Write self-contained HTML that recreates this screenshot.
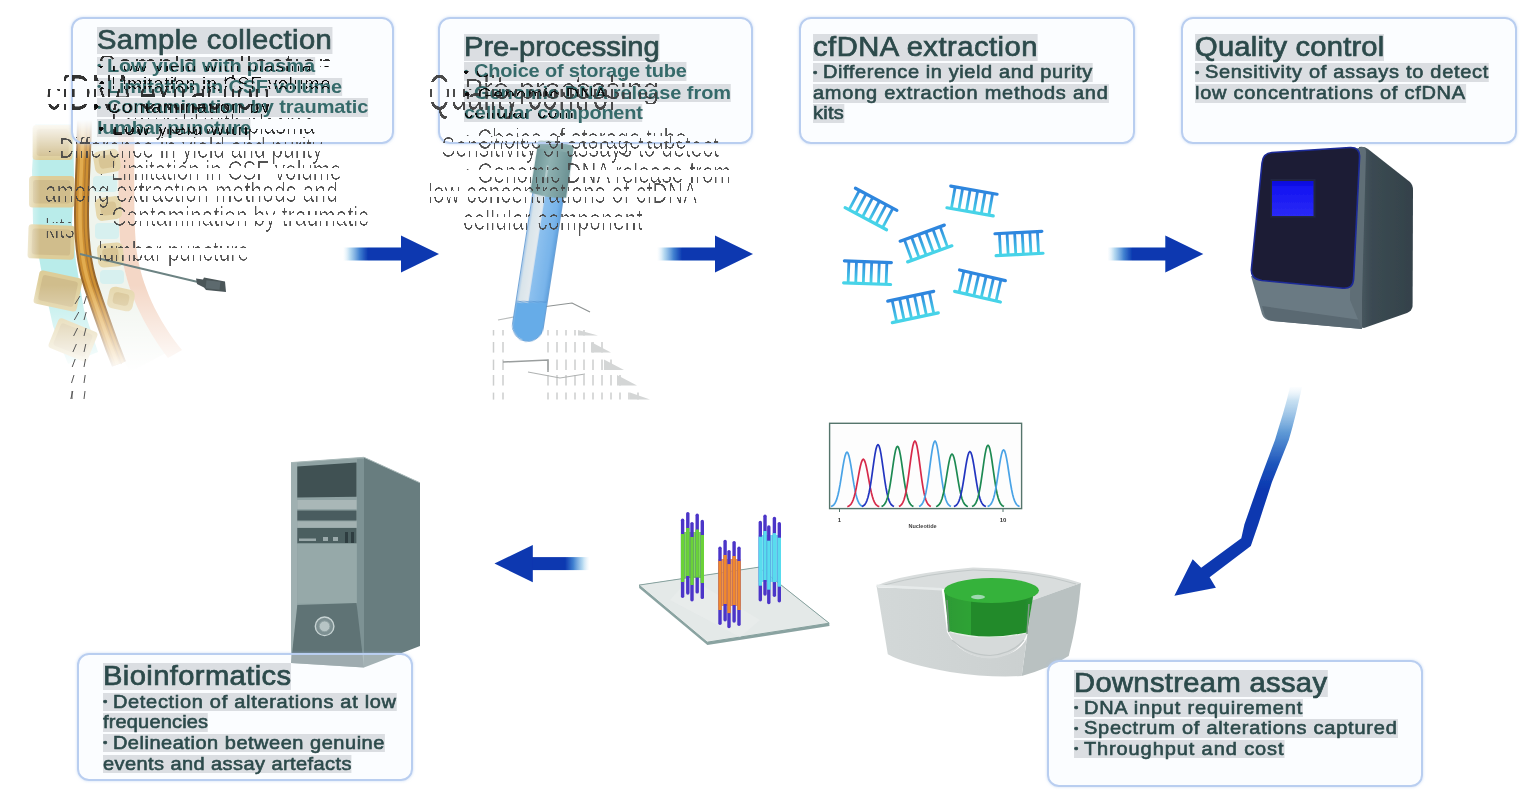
<!DOCTYPE html>
<html><head><meta charset="utf-8"><title>cfDNA workflow</title>
<style>
html,body{margin:0;padding:0;background:#fff;}
#c{position:relative;width:1536px;height:805px;overflow:hidden;background:#fff;font-family:"Liberation Sans", sans-serif;}
#art{position:absolute;left:0;top:0;}
.bx{position:absolute;box-sizing:border-box;border:2px solid #b9cef0;border-radius:12px;background:rgba(246,250,254,0.42);box-shadow:0 0 3px rgba(170,198,238,0.6);}
.t{position:absolute;white-space:pre;line-height:1;color:#2c4a4b;transform-origin:0 0;filter:blur(0.35px);}
.t span.bg{display:inline-block;background:rgba(95,100,108,0.2);}
.ti{font-size:27px;-webkit-text-stroke:0.7px #2c4a4b;}
.bo{font-size:18.5px;}
.med{-webkit-text-stroke:0.6px #2c4a4b;}
.bold{font-weight:700;color:#356a6a;filter:blur(0.35px);}
.g{position:absolute;white-space:pre;line-height:1;transform-origin:0 0;}
.gw{position:absolute;left:0;top:0;width:800px;height:300px;filter:url(#thin);opacity:0.92;}
.s{position:absolute;overflow:hidden;white-space:pre;}
.s span{position:absolute;left:0;line-height:1;}

</style></head><body><div id="c">
<svg id="art" width="1536" height="805" viewBox="0 0 1536 805">
<defs>
<linearGradient id="agr" x1="0" x2="1" y1="0" y2="0">
 <stop offset="0" stop-color="#d8ecf8" stop-opacity="0"/>
 <stop offset="0.12" stop-color="#a8d2ee" stop-opacity="0.85"/>
 <stop offset="0.28" stop-color="#3f7fd0"/>
 <stop offset="0.42" stop-color="#0a37b0"/>
 <stop offset="1" stop-color="#0a37b0"/>
</linearGradient>
<linearGradient id="agl" x1="1" x2="0" y1="0" y2="0">
 <stop offset="0" stop-color="#d8ecf8" stop-opacity="0"/>
 <stop offset="0.12" stop-color="#a8d2ee" stop-opacity="0.85"/>
 <stop offset="0.28" stop-color="#3f7fd0"/>
 <stop offset="0.42" stop-color="#0a37b0"/>
 <stop offset="1" stop-color="#0a37b0"/>
</linearGradient>
<linearGradient id="agb" gradientUnits="userSpaceOnUse" x1="0" y1="385" x2="0" y2="490">
 <stop offset="0" stop-color="#e4f1fa" stop-opacity="0"/>
 <stop offset="0.15" stop-color="#b9d8ee" stop-opacity="0.8"/>
 <stop offset="0.45" stop-color="#5f9ad6"/>
 <stop offset="0.75" stop-color="#1f55bc"/>
 <stop offset="1" stop-color="#0a37b0"/>
</linearGradient>
<linearGradient id="rung" x1="0" x2="0" y1="0" y2="1">
 <stop offset="0" stop-color="#2f86de"/><stop offset="1" stop-color="#48d4e8"/>
</linearGradient>
<linearGradient id="spfadeB" gradientUnits="userSpaceOnUse" x1="0" y1="285" x2="0" y2="372">
 <stop offset="0" stop-color="#fff" stop-opacity="0"/><stop offset="1" stop-color="#fff" stop-opacity="1"/>
</linearGradient>
<linearGradient id="spfadeT" gradientUnits="userSpaceOnUse" x1="0" y1="120" x2="0" y2="160">
 <stop offset="0" stop-color="#fff" stop-opacity="1"/><stop offset="1" stop-color="#fff" stop-opacity="0"/>
</linearGradient>
<linearGradient id="spfadeL" gradientUnits="userSpaceOnUse" x1="18" y1="0" x2="40" y2="0">
 <stop offset="0" stop-color="#fff" stop-opacity="1"/><stop offset="1" stop-color="#fff" stop-opacity="0"/>
</linearGradient>
<linearGradient id="tubeg" x1="0" x2="1" y1="0" y2="0">
 <stop offset="0" stop-color="#9cc4ea"/><stop offset="0.1" stop-color="#d9e4ea"/><stop offset="0.38" stop-color="#e4eaee"/>
 <stop offset="0.42" stop-color="#8cc0ee"/><stop offset="0.85" stop-color="#78b4ea"/><stop offset="1" stop-color="#5e9fdc"/>
</linearGradient>
<linearGradient id="capg" x1="0" x2="1" y1="0" y2="0">
 <stop offset="0" stop-color="#6f9697"/><stop offset="0.4" stop-color="#8fb2b2"/><stop offset="1" stop-color="#6a9092"/>
</linearGradient>
<linearGradient id="sideg" x1="0" x2="1" y1="0" y2="0">
 <stop offset="0" stop-color="#55646c"/><stop offset="0.35" stop-color="#3b4a52"/><stop offset="1" stop-color="#34424a"/>
</linearGradient>
<linearGradient id="scrg" x1="0" x2="0" y1="0" y2="1">
 <stop offset="0" stop-color="#0c0cd8"/><stop offset="0.2" stop-color="#1414f2"/><stop offset="1" stop-color="#2a2af6"/>
</linearGradient>
<linearGradient id="grn" x1="0" x2="1" y1="0" y2="0">
 <stop offset="0" stop-color="#2c9a34"/><stop offset="0.3" stop-color="#2fa336"/><stop offset="0.3" stop-color="#228a2c"/><stop offset="0.9" stop-color="#228a2c"/><stop offset="1" stop-color="#2a9632"/>
</linearGradient>
<linearGradient id="seqf" x1="0" x2="1" y1="0" y2="0">
 <stop offset="0" stop-color="#d3d8d8"/><stop offset="1" stop-color="#cbd0d0"/>
</linearGradient>
<filter id="thin" x="0" y="0" width="100%" height="100%"><feGaussianBlur stdDeviation="0.6"/><feComponentTransfer><feFuncA type="linear" slope="4" intercept="-2.65"/></feComponentTransfer></filter>
<filter id="thin2" x="0" y="0" width="100%" height="100%"><feGaussianBlur stdDeviation="0.5"/><feComponentTransfer><feFuncA type="linear" slope="4" intercept="-2.1"/></feComponentTransfer></filter>
<filter id="thin3" x="0" y="0" width="100%" height="100%"><feGaussianBlur stdDeviation="0.7"/><feComponentTransfer><feFuncA type="linear" slope="4" intercept="-2.45"/></feComponentTransfer></filter>
<filter id="b1" x="-5%" y="-5%" width="110%" height="110%"><feGaussianBlur stdDeviation="0.7"/></filter>
<filter id="b2" x="-10%" y="-10%" width="120%" height="120%"><feGaussianBlur stdDeviation="1.6"/></filter>
</defs>
<g id="spine" filter="url(#b1)" opacity="0.9">
<path d="M88,120 L118,120 C119,170 117,215 121,250 C126,290 145,325 168,352 L130,372 C112,340 98,300 92,262 C86,222 86,170 88,120 Z" fill="#eef3ec"/>
<path d="M118,120 L134,120 C135,165 133,210 136,246 C140,282 156,318 182,350 L168,358 C144,326 126,290 121,250 C117,212 119,166 118,120 Z" fill="#f3d3c0"/>
<rect x="94" y="150" width="26" height="23" rx="6" fill="#e3d3a4" transform="rotate(-10 107.0 161.5)"/>
<rect x="99" y="155" width="16" height="13" rx="4" fill="#d4bf8a" transform="rotate(-10 107.0 161.5)"/>
<rect x="95.5" y="197" width="26" height="23" rx="6" fill="#e3d3a4" transform="rotate(-8 108.5 208.5)"/>
<rect x="100.5" y="202" width="16" height="13" rx="4" fill="#d4bf8a" transform="rotate(-8 108.5 208.5)"/>
<rect x="97.5" y="243" width="26" height="24" rx="6" fill="#e3d3a4" transform="rotate(-5 110.5 255.0)"/>
<rect x="102.5" y="248" width="16" height="14" rx="4" fill="#d4bf8a" transform="rotate(-5 110.5 255.0)"/>
<rect x="108" y="288" width="26" height="22" rx="6" fill="#e3d3a4" transform="rotate(12 121.0 299.0)"/>
<rect x="113" y="293" width="16" height="12" rx="4" fill="#d4bf8a" transform="rotate(12 121.0 299.0)"/>
<rect x="93" y="176" width="24" height="16" rx="4" fill="#d3efee"/>
<rect x="95" y="223" width="24" height="16" rx="4" fill="#d3efee"/>
<rect x="100" y="270" width="24" height="14" rx="4" fill="#d3efee"/>
<path d="M35,124 L73,124 L74,176 L72,224 L76,262 L84,310 L98,352 L68,364 L53,326 L43,280 L33,224 L32,170 Z" fill="#b2eae8"/>
<rect x="32.6" y="125" width="40" height="35" rx="3.5" fill="#dac88f" transform="rotate(0 52.6 142.5)"/>
<rect x="36.6" y="129" width="32" height="27" rx="3" fill="#ccb680" transform="rotate(0 52.6 142.5)"/>
<rect x="29" y="176" width="45.3" height="31.5" rx="3.5" fill="#dac88f" transform="rotate(0 51.65 191.75)"/>
<rect x="33" y="180" width="37.3" height="23.5" rx="3" fill="#ccb680" transform="rotate(0 51.65 191.75)"/>
<rect x="28" y="225" width="46.5" height="34" rx="3.5" fill="#dac88f" transform="rotate(2 51.25 242.0)"/>
<rect x="32" y="229" width="38.5" height="26" rx="3" fill="#ccb680" transform="rotate(2 51.25 242.0)"/>
<rect x="36" y="274" width="44" height="34" rx="3.5" fill="#dac88f" transform="rotate(12 58.0 291.0)"/>
<rect x="40" y="278" width="36" height="26" rx="3" fill="#ccb680" transform="rotate(12 58.0 291.0)"/>
<rect x="52" y="324" width="42" height="32" rx="3.5" fill="#dac88f" transform="rotate(22 73.0 340.0)"/>
<rect x="56" y="328" width="34" height="24" rx="3" fill="#ccb680" transform="rotate(22 73.0 340.0)"/>
<path d="M84.5,120 C84,150 81.5,190 81.5,215 C81.5,245 85,268 91,286 C97,304 104,324 112,346 L119,364" fill="none" stroke="#8c5716" stroke-width="15" stroke-linecap="butt"/>
<path d="M84.5,120 C84,150 81.5,190 81.5,215 C81.5,245 85,268 91,286 C97,304 104,324 112,346 L119,364" fill="none" stroke="#c8831f" stroke-width="11"/>
<path d="M84.5,120 C84,150 81.5,190 81.5,215 C81.5,245 85,268 91,286 C97,304 104,324 112,346 L119,364" fill="none" stroke="#dfa43c" stroke-width="3.5" transform="translate(-1.5,0)"/>
<path d="M84.5,120 C84,150 81.5,190 81.5,215 C81.5,245 85,268 91,286 C97,304 104,324 112,346 L119,364" fill="none" stroke="#a56a1a" stroke-width="1.2" transform="translate(2.5,0)"/>
</g>
<rect x="0" y="285" width="260" height="130" fill="url(#spfadeB)"/>
<rect x="0" y="100" width="260" height="61" fill="url(#spfadeT)"/>
<rect x="0" y="100" width="42" height="320" fill="url(#spfadeL)"/>
<g filter="url(#b1)"><line x1="80" y1="254" x2="200" y2="282.5" stroke="#6c8383" stroke-width="1.8"/>
<path d="M196,278.5 L203,279.5 L204,277.5 L225,281.5 L226,292 L206,290 L204,287.5 L197,284 Z" fill="#4b5659"/>
<rect x="206" y="281" width="14" height="8" fill="#5d6a6e" transform="rotate(6 213 285)"/></g>
<line x1="80.0" y1="296" x2="75.0" y2="304" stroke="#555" stroke-width="1"/>
<line x1="86.5" y1="296" x2="84" y2="304" stroke="#555" stroke-width="1"/>
<line x1="78.8" y1="312" x2="74.3" y2="320" stroke="#555" stroke-width="1"/>
<line x1="86.2" y1="312" x2="84" y2="320" stroke="#555" stroke-width="1"/>
<line x1="77.6" y1="328" x2="73.6" y2="336" stroke="#555" stroke-width="1"/>
<line x1="86.0" y1="328" x2="84" y2="336" stroke="#555" stroke-width="1"/>
<line x1="76.4" y1="344" x2="72.9" y2="352" stroke="#555" stroke-width="1"/>
<line x1="85.8" y1="344" x2="84" y2="352" stroke="#555" stroke-width="1"/>
<line x1="75.2" y1="359" x2="72.2" y2="367" stroke="#555" stroke-width="1"/>
<line x1="85.5" y1="359" x2="84" y2="367" stroke="#555" stroke-width="1"/>
<line x1="74.0" y1="375" x2="71.5" y2="383" stroke="#555" stroke-width="1"/>
<line x1="85.2" y1="375" x2="84" y2="383" stroke="#555" stroke-width="1"/>
<line x1="72.8" y1="391" x2="70.8" y2="399" stroke="#555" stroke-width="1"/>
<line x1="85.0" y1="391" x2="84" y2="399" stroke="#555" stroke-width="1"/>
<line x1="72" y1="391" x2="72" y2="399" stroke="#555" stroke-width="1"/>
<g stroke="#b9bcbc" stroke-width="1.2" fill="none" filter="url(#b1)">
<path d="M520,310 L572,303 L590,312" stroke="#8d9292"/>
<path d="M498,320 L530,314"/>
<line x1="493.5" y1="330" x2="493.5" y2="335.5" stroke="#cccece" stroke-width="1.5"/>
<line x1="503" y1="330" x2="503" y2="335.5" stroke="#cccece" stroke-width="1.5"/>
<line x1="548" y1="330" x2="548" y2="335.5" stroke="#cccece" stroke-width="1.5"/>
<line x1="557" y1="330" x2="557" y2="335.5" stroke="#cccece" stroke-width="1.5"/>
<line x1="566" y1="330" x2="566" y2="335.5" stroke="#cccece" stroke-width="1.5"/>
<line x1="575" y1="330" x2="575" y2="335.5" stroke="#cccece" stroke-width="1.5"/>
<line x1="584" y1="330" x2="584" y2="335.5" stroke="#cccece" stroke-width="1.5"/>
<path d="M578,330 L598,335.5 L578,335.5 Z" fill="#d4d6d6" stroke="none"/>
<line x1="493.5" y1="342" x2="493.5" y2="352.6" stroke="#cccece" stroke-width="1.5"/>
<line x1="503" y1="342" x2="503" y2="352.6" stroke="#cccece" stroke-width="1.5"/>
<line x1="548" y1="342" x2="548" y2="352.6" stroke="#cccece" stroke-width="1.5"/>
<line x1="557" y1="342" x2="557" y2="352.6" stroke="#cccece" stroke-width="1.5"/>
<line x1="566" y1="342" x2="566" y2="352.6" stroke="#cccece" stroke-width="1.5"/>
<line x1="575" y1="342" x2="575" y2="352.6" stroke="#cccece" stroke-width="1.5"/>
<line x1="584" y1="342" x2="584" y2="352.6" stroke="#cccece" stroke-width="1.5"/>
<line x1="593" y1="342" x2="593" y2="352.6" stroke="#cccece" stroke-width="1.5"/>
<line x1="602" y1="342" x2="602" y2="352.6" stroke="#cccece" stroke-width="1.5"/>
<path d="M591,342 L611,352.6 L591,352.6 Z" fill="#d4d6d6" stroke="none"/>
<line x1="493.5" y1="359.6" x2="493.5" y2="370" stroke="#cccece" stroke-width="1.5"/>
<line x1="503" y1="359.6" x2="503" y2="370" stroke="#cccece" stroke-width="1.5"/>
<line x1="548" y1="359.6" x2="548" y2="370" stroke="#cccece" stroke-width="1.5"/>
<line x1="557" y1="359.6" x2="557" y2="370" stroke="#cccece" stroke-width="1.5"/>
<line x1="566" y1="359.6" x2="566" y2="370" stroke="#cccece" stroke-width="1.5"/>
<line x1="575" y1="359.6" x2="575" y2="370" stroke="#cccece" stroke-width="1.5"/>
<line x1="584" y1="359.6" x2="584" y2="370" stroke="#cccece" stroke-width="1.5"/>
<line x1="593" y1="359.6" x2="593" y2="370" stroke="#cccece" stroke-width="1.5"/>
<line x1="602" y1="359.6" x2="602" y2="370" stroke="#cccece" stroke-width="1.5"/>
<line x1="611" y1="359.6" x2="611" y2="370" stroke="#cccece" stroke-width="1.5"/>
<path d="M604,359.6 L624,370 L604,370 Z" fill="#d4d6d6" stroke="none"/>
<line x1="493.5" y1="375" x2="493.5" y2="385.6" stroke="#cccece" stroke-width="1.5"/>
<line x1="503" y1="375" x2="503" y2="385.6" stroke="#cccece" stroke-width="1.5"/>
<line x1="548" y1="375" x2="548" y2="385.6" stroke="#cccece" stroke-width="1.5"/>
<line x1="557" y1="375" x2="557" y2="385.6" stroke="#cccece" stroke-width="1.5"/>
<line x1="566" y1="375" x2="566" y2="385.6" stroke="#cccece" stroke-width="1.5"/>
<line x1="575" y1="375" x2="575" y2="385.6" stroke="#cccece" stroke-width="1.5"/>
<line x1="584" y1="375" x2="584" y2="385.6" stroke="#cccece" stroke-width="1.5"/>
<line x1="593" y1="375" x2="593" y2="385.6" stroke="#cccece" stroke-width="1.5"/>
<line x1="602" y1="375" x2="602" y2="385.6" stroke="#cccece" stroke-width="1.5"/>
<line x1="611" y1="375" x2="611" y2="385.6" stroke="#cccece" stroke-width="1.5"/>
<line x1="620" y1="375" x2="620" y2="385.6" stroke="#cccece" stroke-width="1.5"/>
<path d="M617,375 L637,385.6 L617,385.6 Z" fill="#d4d6d6" stroke="none"/>
<line x1="493.5" y1="392.6" x2="493.5" y2="399.6" stroke="#cccece" stroke-width="1.5"/>
<line x1="503" y1="392.6" x2="503" y2="399.6" stroke="#cccece" stroke-width="1.5"/>
<line x1="548" y1="392.6" x2="548" y2="399.6" stroke="#cccece" stroke-width="1.5"/>
<line x1="557" y1="392.6" x2="557" y2="399.6" stroke="#cccece" stroke-width="1.5"/>
<line x1="566" y1="392.6" x2="566" y2="399.6" stroke="#cccece" stroke-width="1.5"/>
<line x1="575" y1="392.6" x2="575" y2="399.6" stroke="#cccece" stroke-width="1.5"/>
<line x1="584" y1="392.6" x2="584" y2="399.6" stroke="#cccece" stroke-width="1.5"/>
<line x1="593" y1="392.6" x2="593" y2="399.6" stroke="#cccece" stroke-width="1.5"/>
<line x1="602" y1="392.6" x2="602" y2="399.6" stroke="#cccece" stroke-width="1.5"/>
<line x1="611" y1="392.6" x2="611" y2="399.6" stroke="#cccece" stroke-width="1.5"/>
<line x1="620" y1="392.6" x2="620" y2="399.6" stroke="#cccece" stroke-width="1.5"/>
<line x1="629" y1="392.6" x2="629" y2="399.6" stroke="#cccece" stroke-width="1.5"/>
<line x1="638" y1="392.6" x2="638" y2="399.6" stroke="#cccece" stroke-width="1.5"/>
<path d="M630,392.6 L650,399.6 L630,399.6 Z" fill="#d4d6d6" stroke="none"/>
<path d="M503,362 L548,360 L548,372" stroke="#9a9e9e" stroke-width="1.5"/>
<path d="M528,372 L560,378 L585,374" stroke="#b0b3b3"/>
</g>
<g transform="translate(548,196) rotate(8.8)" filter="url(#b1)">
<path d="M-15.5,-4 L15.5,-4 L15.5,131 A15.5,16 0 0 1 -15.5,131 Z" fill="url(#tubeg)" stroke="#5b95cf" stroke-width="0.8"/>
<path d="M-14.8,110 L14.8,106 L14.8,131 A14.8,15.3 0 0 1 -14.8,131 Z" fill="#66ace8"/>
<path d="M-14.8,109 L14.8,105" stroke="#4e8fcf" stroke-width="0.8" fill="none"/>
<path d="M-18,-53 Q0,-57 18,-53 L18.3,-1 Q0,3 -18.3,-1 Z" fill="url(#capg)"/>
<path d="M-18,-53 Q0,-57 18,-53 L18,-45 Q0,-48 -18,-45 Z" fill="#86a9a9"/>
<line x1="-5" y1="-30" x2="-5" y2="-18" stroke="#dfeaea" stroke-width="1"/>
</g>
<g filter="url(#b1)">
<g transform="translate(871,209) rotate(28)">
<rect x="-20.4" y="-10.5" width="2.8" height="21" fill="url(#rung)"/>
<rect x="-12.8" y="-10.5" width="2.8" height="21" fill="url(#rung)"/>
<rect x="-5.199999999999999" y="-10.5" width="2.8" height="21" fill="url(#rung)"/>
<rect x="2.4" y="-10.5" width="2.8" height="21" fill="url(#rung)"/>
<rect x="10.0" y="-10.5" width="2.8" height="21" fill="url(#rung)"/>
<rect x="17.6" y="-10.5" width="2.8" height="21" fill="url(#rung)"/>
<line x1="-23.5" y1="-11" x2="23.5" y2="-11" stroke="#2f86de" stroke-width="3.2" stroke-linecap="round"/>
<line x1="-23.5" y1="11" x2="23.5" y2="11" stroke="#46d3e8" stroke-width="3.2" stroke-linecap="round"/>
</g>
<g transform="translate(972,201) rotate(10)">
<rect x="-20.4" y="-10.5" width="2.8" height="21" fill="url(#rung)"/>
<rect x="-12.8" y="-10.5" width="2.8" height="21" fill="url(#rung)"/>
<rect x="-5.199999999999999" y="-10.5" width="2.8" height="21" fill="url(#rung)"/>
<rect x="2.4" y="-10.5" width="2.8" height="21" fill="url(#rung)"/>
<rect x="10.0" y="-10.5" width="2.8" height="21" fill="url(#rung)"/>
<rect x="17.6" y="-10.5" width="2.8" height="21" fill="url(#rung)"/>
<line x1="-23.5" y1="-11" x2="23.5" y2="-11" stroke="#2f86de" stroke-width="3.2" stroke-linecap="round"/>
<line x1="-23.5" y1="11" x2="23.5" y2="11" stroke="#46d3e8" stroke-width="3.2" stroke-linecap="round"/>
</g>
<g transform="translate(926,243.5) rotate(-20)">
<rect x="-20.4" y="-10.5" width="2.8" height="21" fill="url(#rung)"/>
<rect x="-12.8" y="-10.5" width="2.8" height="21" fill="url(#rung)"/>
<rect x="-5.199999999999999" y="-10.5" width="2.8" height="21" fill="url(#rung)"/>
<rect x="2.4" y="-10.5" width="2.8" height="21" fill="url(#rung)"/>
<rect x="10.0" y="-10.5" width="2.8" height="21" fill="url(#rung)"/>
<rect x="17.6" y="-10.5" width="2.8" height="21" fill="url(#rung)"/>
<line x1="-23.5" y1="-11" x2="23.5" y2="-11" stroke="#2f86de" stroke-width="3.2" stroke-linecap="round"/>
<line x1="-23.5" y1="11" x2="23.5" y2="11" stroke="#46d3e8" stroke-width="3.2" stroke-linecap="round"/>
</g>
<g transform="translate(1019,243.5) rotate(-3)">
<rect x="-20.4" y="-10.5" width="2.8" height="21" fill="url(#rung)"/>
<rect x="-12.8" y="-10.5" width="2.8" height="21" fill="url(#rung)"/>
<rect x="-5.199999999999999" y="-10.5" width="2.8" height="21" fill="url(#rung)"/>
<rect x="2.4" y="-10.5" width="2.8" height="21" fill="url(#rung)"/>
<rect x="10.0" y="-10.5" width="2.8" height="21" fill="url(#rung)"/>
<rect x="17.6" y="-10.5" width="2.8" height="21" fill="url(#rung)"/>
<line x1="-23.5" y1="-11" x2="23.5" y2="-11" stroke="#2f86de" stroke-width="3.2" stroke-linecap="round"/>
<line x1="-23.5" y1="11" x2="23.5" y2="11" stroke="#46d3e8" stroke-width="3.2" stroke-linecap="round"/>
</g>
<g transform="translate(867.5,272.7) rotate(2)">
<rect x="-20.4" y="-10.5" width="2.8" height="21" fill="url(#rung)"/>
<rect x="-12.8" y="-10.5" width="2.8" height="21" fill="url(#rung)"/>
<rect x="-5.199999999999999" y="-10.5" width="2.8" height="21" fill="url(#rung)"/>
<rect x="2.4" y="-10.5" width="2.8" height="21" fill="url(#rung)"/>
<rect x="10.0" y="-10.5" width="2.8" height="21" fill="url(#rung)"/>
<rect x="17.6" y="-10.5" width="2.8" height="21" fill="url(#rung)"/>
<line x1="-23.5" y1="-11" x2="23.5" y2="-11" stroke="#2f86de" stroke-width="3.2" stroke-linecap="round"/>
<line x1="-23.5" y1="11" x2="23.5" y2="11" stroke="#46d3e8" stroke-width="3.2" stroke-linecap="round"/>
</g>
<g transform="translate(980,286) rotate(13)">
<rect x="-20.4" y="-10.5" width="2.8" height="21" fill="url(#rung)"/>
<rect x="-12.8" y="-10.5" width="2.8" height="21" fill="url(#rung)"/>
<rect x="-5.199999999999999" y="-10.5" width="2.8" height="21" fill="url(#rung)"/>
<rect x="2.4" y="-10.5" width="2.8" height="21" fill="url(#rung)"/>
<rect x="10.0" y="-10.5" width="2.8" height="21" fill="url(#rung)"/>
<rect x="17.6" y="-10.5" width="2.8" height="21" fill="url(#rung)"/>
<line x1="-23.5" y1="-11" x2="23.5" y2="-11" stroke="#2f86de" stroke-width="3.2" stroke-linecap="round"/>
<line x1="-23.5" y1="11" x2="23.5" y2="11" stroke="#46d3e8" stroke-width="3.2" stroke-linecap="round"/>
</g>
<g transform="translate(913,307) rotate(-12)">
<rect x="-20.4" y="-10.5" width="2.8" height="21" fill="url(#rung)"/>
<rect x="-12.8" y="-10.5" width="2.8" height="21" fill="url(#rung)"/>
<rect x="-5.199999999999999" y="-10.5" width="2.8" height="21" fill="url(#rung)"/>
<rect x="2.4" y="-10.5" width="2.8" height="21" fill="url(#rung)"/>
<rect x="10.0" y="-10.5" width="2.8" height="21" fill="url(#rung)"/>
<rect x="17.6" y="-10.5" width="2.8" height="21" fill="url(#rung)"/>
<line x1="-23.5" y1="-11" x2="23.5" y2="-11" stroke="#2f86de" stroke-width="3.2" stroke-linecap="round"/>
<line x1="-23.5" y1="11" x2="23.5" y2="11" stroke="#46d3e8" stroke-width="3.2" stroke-linecap="round"/>
</g>
</g>
<g filter="url(#b1)">
<rect x="343" y="247.5" width="60" height="13" fill="url(#agr)"/>
<path d="M401,235.4 L439,254 L401,272.6 Z" fill="#0a37b0"/>
<rect x="657" y="247.5" width="60" height="13" fill="url(#agr)"/>
<path d="M715,235.4 L753,254 L715,272.6 Z" fill="#0a37b0"/>
<rect x="1107.3" y="247.5" width="60" height="13" fill="url(#agr)"/>
<path d="M1165.3,235.4 L1203.3,254 L1165.3,272.6 Z" fill="#0a37b0"/>
<rect x="531" y="557.1" width="58.5" height="13" fill="url(#agl)"/>
<path d="M532.8,545 L494.5,563.6 L532.8,582.2 Z" fill="#0a37b0"/>
<path d="M1290,387 C1286,405 1280,423 1275,440 L1259.2,482.2 L1244.4,524.4 L1241.3,538.2 L1201.2,567.7 L1192.7,559.3 L1174.4,595.8 L1215.9,587.8 L1209.6,577.2 L1250.8,546 L1258.2,524.4 L1271.9,482.2 L1288.8,440 C1294,423 1298,405 1302,387 Z" fill="url(#agb)"/>
</g>
<g filter="url(#b1)">
<path d="M1359,147 Q1364,146 1368,149 L1410,182 Q1413,185 1413,190 L1412.6,306 Q1412,311 1407,313 L1364,328 L1350,326 Z" fill="url(#sideg)"/>
<path d="M1251,276 L1262,314 Q1264,320 1272,321 L1362,329 L1356,284 Z" fill="#6b7a83"/>
<path d="M1262,306 L1265,316 Q1267,320 1273,321 L1362,329 L1361,320 Z" fill="#5a6972"/>
<path d="M1352,150 L1362,147 Q1366,147 1366,152 L1362,300 L1362,329 L1350,300 Z" fill="#5f6e76"/>
<path d="M1272,152.5 L1350,147.5 Q1360,147 1359.6,157 L1353.6,279 Q1353,289 1343,288.2 L1262,280.5 Q1250,279 1251.5,268 L1262,163 Q1263,153 1272,152.5 Z" fill="#1b1f36" stroke="#1c2a98" stroke-width="1.6"/>
<rect x="1270.5" y="179" width="45" height="38.5" fill="#23283f"/>
<rect x="1272" y="181" width="41.5" height="35" fill="url(#scrg)"/>
</g>
<g filter="url(#b1)">
<rect x="829.6" y="423.3" width="192" height="85.3" fill="#fdfdfd" stroke="#55756c" stroke-width="1.4"/>
<polyline points="831.0,506.5 832.0,506.1 833.0,505.5 834.0,504.6 835.0,503.2 836.0,501.2 837.0,498.4 838.0,494.7 839.0,490.2 840.0,484.9 841.0,478.8 842.0,472.5 843.0,466.2 844.0,460.6 845.0,456.1 846.0,453.2 847.0,452.2 848.0,453.2 849.0,456.1 850.0,460.6 851.0,466.2 852.0,472.5 853.0,478.8 854.0,484.9 855.0,490.2 856.0,494.7 857.0,498.4 858.0,501.2 859.0,503.2 860.0,504.6 861.0,505.5 862.0,506.1 863.0,506.5" fill="none" stroke="#4aa3e6" stroke-width="1.7" stroke-linejoin="round"/>
<polyline points="847.3,506.6 848.3,506.3 849.3,505.7 850.3,504.9 851.3,503.7 852.3,501.9 853.3,499.5 854.3,496.3 855.3,492.4 856.3,487.7 857.3,482.4 858.3,476.9 859.3,471.4 860.3,466.5 861.3,462.6 862.3,460.1 863.3,459.2 864.3,460.1 865.3,462.6 866.3,466.5 867.3,471.4 868.3,476.9 869.3,482.4 870.3,487.7 871.3,492.4 872.3,496.3 873.3,499.5 874.3,501.9 875.3,503.7 876.3,504.9 877.3,505.7 878.3,506.3 879.3,506.6" fill="none" stroke="#d62a4a" stroke-width="1.7" stroke-linejoin="round"/>
<polyline points="862.0,506.5 863.0,506.0 864.0,505.3 865.0,504.3 866.0,502.6 867.0,500.3 868.0,497.2 869.0,493.0 870.0,487.9 871.0,481.8 872.0,474.9 873.0,467.7 874.0,460.6 875.0,454.2 876.0,449.0 877.0,445.7 878.0,444.6 879.0,445.7 880.0,449.0 881.0,454.2 882.0,460.6 883.0,467.7 884.0,474.9 885.0,481.8 886.0,487.9 887.0,493.0 888.0,497.2 889.0,500.3 890.0,502.6 891.0,504.3 892.0,505.3 893.0,506.0 894.0,506.5" fill="none" stroke="#2436c0" stroke-width="1.7" stroke-linejoin="round"/>
<polyline points="881.5,506.5 882.5,506.1 883.5,505.4 884.5,504.3 885.5,502.8 886.5,500.5 887.5,497.4 888.5,493.4 889.5,488.4 890.5,482.5 891.5,475.8 892.5,468.8 893.5,461.8 894.5,455.6 895.5,450.6 896.5,447.4 897.5,446.3 898.5,447.4 899.5,450.6 900.5,455.6 901.5,461.8 902.5,468.8 903.5,475.8 904.5,482.5 905.5,488.4 906.5,493.4 907.5,497.4 908.5,500.5 909.5,502.8 910.5,504.3 911.5,505.4 912.5,506.1 913.5,506.5" fill="none" stroke="#1f8a52" stroke-width="1.7" stroke-linejoin="round"/>
<polyline points="898.9,506.4 899.9,506.0 900.9,505.2 901.9,504.1 902.9,502.4 903.9,500.0 904.9,496.6 905.9,492.2 906.9,486.8 907.9,480.3 908.9,473.1 909.9,465.4 910.9,457.9 911.9,451.1 912.9,445.7 913.9,442.2 914.9,441.0 915.9,442.2 916.9,445.7 917.9,451.1 918.9,457.9 919.9,465.4 920.9,473.1 921.9,480.3 922.9,486.8 923.9,492.2 924.9,496.6 925.9,500.0 926.9,502.4 927.9,504.1 928.9,505.2 929.9,506.0 930.9,506.4" fill="none" stroke="#d62a4a" stroke-width="1.7" stroke-linejoin="round"/>
<polyline points="919.0,506.4 920.0,506.0 921.0,505.2 922.0,504.1 923.0,502.4 924.0,500.0 925.0,496.6 926.0,492.2 927.0,486.8 928.0,480.3 929.0,473.1 930.0,465.4 931.0,457.9 932.0,451.1 933.0,445.7 934.0,442.2 935.0,441.0 936.0,442.2 937.0,445.7 938.0,451.1 939.0,457.9 940.0,465.4 941.0,473.1 942.0,480.3 943.0,486.8 944.0,492.2 945.0,496.6 946.0,500.0 947.0,502.4 948.0,504.1 949.0,505.2 950.0,506.0 951.0,506.4" fill="none" stroke="#4aa3e6" stroke-width="1.7" stroke-linejoin="round"/>
<polyline points="936.0,506.5 937.0,506.2 938.0,505.6 939.0,504.7 940.0,503.3 941.0,501.3 942.0,498.7 943.0,495.1 944.0,490.8 945.0,485.6 946.0,479.8 947.0,473.6 948.0,467.6 949.0,462.1 950.0,457.8 951.0,455.0 952.0,454.0 953.0,455.0 954.0,457.8 955.0,462.1 956.0,467.6 957.0,473.6 958.0,479.8 959.0,485.6 960.0,490.8 961.0,495.1 962.0,498.7 963.0,501.3 964.0,503.3 965.0,504.7 966.0,505.6 967.0,506.2 968.0,506.5" fill="none" stroke="#1f8a52" stroke-width="1.7" stroke-linejoin="round"/>
<polyline points="953.9,506.5 954.9,506.1 955.9,505.5 956.9,504.6 957.9,503.1 958.9,501.1 959.9,498.3 960.9,494.6 961.9,490.0 962.9,484.6 963.9,478.5 964.9,472.0 965.9,465.7 966.9,460.0 967.9,455.5 968.9,452.5 969.9,451.5 970.9,452.5 971.9,455.5 972.9,460.0 973.9,465.7 974.9,472.0 975.9,478.5 976.9,484.6 977.9,490.0 978.9,494.6 979.9,498.3 980.9,501.1 981.9,503.1 982.9,504.6 983.9,505.5 984.9,506.1 985.9,506.5" fill="none" stroke="#2436c0" stroke-width="1.7" stroke-linejoin="round"/>
<polyline points="972.0,506.5 973.0,506.0 974.0,505.4 975.0,504.3 976.0,502.7 977.0,500.4 978.0,497.3 979.0,493.2 980.0,488.1 981.0,482.0 982.0,475.2 983.0,468.1 984.0,461.0 985.0,454.7 986.0,449.6 987.0,446.3 988.0,445.2 989.0,446.3 990.0,449.6 991.0,454.7 992.0,461.0 993.0,468.1 994.0,475.2 995.0,482.0 996.0,488.1 997.0,493.2 998.0,497.3 999.0,500.4 1000.0,502.7 1001.0,504.3 1002.0,505.4 1003.0,506.0 1004.0,506.5" fill="none" stroke="#1f8a52" stroke-width="1.7" stroke-linejoin="round"/>
<polyline points="987.6,506.5 988.6,506.1 989.6,505.5 990.6,504.5 991.6,503.0 992.6,500.9 993.6,498.0 994.6,494.2 995.6,489.5 996.6,483.9 997.6,477.6 998.6,471.0 999.6,464.4 1000.6,458.6 1001.6,453.9 1002.6,450.8 1003.6,449.8 1004.6,450.8 1005.6,453.9 1006.6,458.6 1007.6,464.4 1008.6,471.0 1009.6,477.6 1010.6,483.9 1011.6,489.5 1012.6,494.2 1013.6,498.0 1014.6,500.9 1015.6,503.0 1016.6,504.5 1017.6,505.5 1018.6,506.1 1019.6,506.5" fill="none" stroke="#4aa3e6" stroke-width="1.7" stroke-linejoin="round"/>
<line x1="839.5" y1="508.6" x2="839.5" y2="512" stroke="#55756c" stroke-width="1"/>
<line x1="1003" y1="508.6" x2="1003" y2="512" stroke="#55756c" stroke-width="1"/>
<text x="839.3" y="522" font-family="Liberation Sans, sans-serif" font-size="6" font-weight="700" fill="#333" text-anchor="middle">1</text>
<text x="1003" y="522" font-family="Liberation Sans, sans-serif" font-size="6" font-weight="700" fill="#333" text-anchor="middle">10</text>
<text x="922.5" y="528" font-family="Liberation Sans, sans-serif" font-size="5.5" font-weight="700" fill="#444" text-anchor="middle">Nucleotide</text>
</g>
<g filter="url(#b1)">
<path d="M876.5,585.7 Q900,574 973,567.4 Q1040,569 1080.9,583 L1032,600.5 L958,589.5 Z" fill="#d9dddd"/>
<path d="M880,586 Q930,573 973,570 Q1035,571 1076,584" fill="none" stroke="#c2c8c8" stroke-width="1"/>
<path d="M1032,600.5 L1080.9,583 Q1078,620 1068.7,656 Q1050,668 1021.7,676 Z" fill="#b9c1c1"/>
<path d="M876.5,585.7 L878,587.5 L941.7,589.2 L947,632 Q960,657 990,658 Q1018,656 1027,638 L1032,600.5 L1021.7,676 Q990,678 950,672 Q905,664 887.8,654.3 Z" fill="url(#seqf)"/>
<path d="M876.5,585.7 L941.7,589.2" stroke="#e6eaea" stroke-width="2.4" fill="none"/>
<path d="M947,630 Q960,657.8 990,658.5 Q1018,657 1027,634 L1027,622 L947,622 Z" fill="#d6dada"/>
<path d="M952,640 Q968,655 990,655.5 Q1012,654 1024,640" fill="none" stroke="#c0c6c6" stroke-width="1.2"/>
<path d="M944.3,591 L948.7,631.7 Q985,642 1027,633 L1034,591 Z" fill="url(#grn)"/>
<path d="M948.7,631.7 Q985,642 1027,633" fill="none" stroke="#e8efe8" stroke-width="1.2"/>
<ellipse cx="991.5" cy="590.5" rx="47.5" ry="12.4" fill="#36b23a"/>
<ellipse cx="978" cy="597" rx="7" ry="2.2" fill="#9fd8b0"/>
<path d="M947,600 L949,632" stroke="#6f8f78" stroke-width="1.5" fill="none"/>
<path d="M1029,604 L1027,634" stroke="#7f9a86" stroke-width="1.5" fill="none"/>
</g>
<g filter="url(#b1)">
<path d="M639,585.1 L758.7,567.2 L829.2,623.2 L829.5,626 L707.4,645 L639.2,588 Z" fill="#8aa3a1"/>
<path d="M639,585.1 L758.7,567.2 L829.2,623.2 L707.2,642.2 Z" fill="#e4e9e8" stroke="#86a19e" stroke-width="1"/>
<path d="M690,578 L760,620 L740,637 L670,600 Z" fill="#e9eded" opacity="0.7"/>
<rect x="681.1" y="532" width="22.699999999999932" height="46" fill="#6ad238" opacity="0.85"/>
<line x1="692" y1="523.6" x2="692" y2="599.7" stroke="#4b34c8" stroke-width="3.4" stroke-linecap="round"/>
<line x1="692" y1="537.0" x2="692" y2="585.0" stroke="#6ad238" stroke-width="3.4"/>
<line x1="682.6" y1="520.3" x2="682.6" y2="596.3" stroke="#4b34c8" stroke-width="3.4" stroke-linecap="round"/>
<line x1="682.6" y1="534.0" x2="682.6" y2="582.0" stroke="#6ad238" stroke-width="3.4"/>
<line x1="702.3" y1="521.4" x2="702.3" y2="597.4" stroke="#4b34c8" stroke-width="3.4" stroke-linecap="round"/>
<line x1="702.3" y1="535.0" x2="702.3" y2="583.0" stroke="#6ad238" stroke-width="3.4"/>
<line x1="687.8" y1="513.6" x2="687.8" y2="593" stroke="#4b34c8" stroke-width="3.4" stroke-linecap="round"/>
<line x1="687.8" y1="528.0" x2="687.8" y2="576.0" stroke="#6ad238" stroke-width="3.4"/>
<line x1="697.2" y1="515.3" x2="697.2" y2="591.9" stroke="#4b34c8" stroke-width="3.4" stroke-linecap="round"/>
<line x1="697.2" y1="529.5" x2="697.2" y2="577.5" stroke="#6ad238" stroke-width="3.4"/>
<rect x="718.5" y="559" width="22" height="47" fill="#f0882f" opacity="0.85"/>
<line x1="729" y1="551.6" x2="729" y2="626.5" stroke="#4b34c8" stroke-width="3.4" stroke-linecap="round"/>
<line x1="729" y1="564.1" x2="729" y2="613.1" stroke="#f0882f" stroke-width="3.4"/>
<line x1="720" y1="548.2" x2="720" y2="623.2" stroke="#4b34c8" stroke-width="3.4" stroke-linecap="round"/>
<line x1="720" y1="561.0" x2="720" y2="610.0" stroke="#f0882f" stroke-width="3.4"/>
<line x1="739" y1="548.2" x2="739" y2="624.3" stroke="#4b34c8" stroke-width="3.4" stroke-linecap="round"/>
<line x1="739" y1="561.0" x2="739" y2="610.0" stroke="#f0882f" stroke-width="3.4"/>
<line x1="725.1" y1="541.5" x2="725.1" y2="619.8" stroke="#4b34c8" stroke-width="3.4" stroke-linecap="round"/>
<line x1="725.1" y1="555.0" x2="725.1" y2="604.0" stroke="#f0882f" stroke-width="3.4"/>
<line x1="734.1" y1="542.6" x2="734.1" y2="621" stroke="#4b34c8" stroke-width="3.4" stroke-linecap="round"/>
<line x1="734.1" y1="556.0" x2="734.1" y2="605.0" stroke="#f0882f" stroke-width="3.4"/>
<rect x="758.8" y="535" width="22.0" height="47" fill="#58dcee" opacity="0.85"/>
<line x1="768.8" y1="527" x2="768.8" y2="602.6" stroke="#4b34c8" stroke-width="3.4" stroke-linecap="round"/>
<line x1="768.8" y1="540.7" x2="768.8" y2="589.7" stroke="#58dcee" stroke-width="3.4"/>
<line x1="760.3" y1="522.5" x2="760.3" y2="599.7" stroke="#4b34c8" stroke-width="3.4" stroke-linecap="round"/>
<line x1="760.3" y1="536.7" x2="760.3" y2="585.7" stroke="#58dcee" stroke-width="3.4"/>
<line x1="779.3" y1="523.6" x2="779.3" y2="600.8" stroke="#4b34c8" stroke-width="3.4" stroke-linecap="round"/>
<line x1="779.3" y1="537.7" x2="779.3" y2="586.7" stroke="#58dcee" stroke-width="3.4"/>
<line x1="765" y1="516.2" x2="765" y2="594.1" stroke="#4b34c8" stroke-width="3.4" stroke-linecap="round"/>
<line x1="765" y1="531.0" x2="765" y2="580.0" stroke="#58dcee" stroke-width="3.4"/>
<line x1="774.4" y1="518.5" x2="774.4" y2="595.2" stroke="#4b34c8" stroke-width="3.4" stroke-linecap="round"/>
<line x1="774.4" y1="533.1" x2="774.4" y2="582.1" stroke="#58dcee" stroke-width="3.4"/>
</g>
<g filter="url(#b1)">
<path d="M364,457.3 L420,482.8 L420,645.9 L364,667.6 Z" fill="#687d7f"/>
<path d="M291,462.6 L364,457.3 L364,667.6 L291,663 Z" fill="#8fa2a3"/>
<path d="M291,462.6 L364,457.3 L420,482.8" fill="none" stroke="#a8b8b8" stroke-width="1"/>
<rect x="357" y="459" width="7" height="208" fill="#7d9294"/>
<rect x="291" y="463" width="6" height="200" fill="#9fb0b1"/>
<path d="M297.3,466.5 L356.5,462.5 L356.5,496.8 L297.3,497.5 Z" fill="#3f5153"/>
<rect x="297.3" y="500" width="59.2" height="9" fill="#a9b7b7"/>
<rect x="297.3" y="510.5" width="59.2" height="10" fill="#4a5c5e"/>
<rect x="297.3" y="521.5" width="59.2" height="6" fill="#a3b2b2"/>
<rect x="297.3" y="528" width="59.2" height="15.5" fill="#4c5e60"/>
<rect x="299" y="538.5" width="17" height="2.5" fill="#9aa9aa"/><rect x="323" y="537" width="5" height="4" fill="#9aa9aa"/><rect x="333" y="537" width="5" height="4" fill="#9aa9aa"/><rect x="345" y="532" width="3" height="11" fill="#2f3d40"/><rect x="351" y="532" width="3" height="11" fill="#2f3d40"/>
<rect x="297.3" y="543.5" width="59.2" height="60" fill="#96a9a9"/>
<path d="M297.3,605 L356.5,603 L364,667.6 L291,663 Z" fill="#5f7375"/>
<circle cx="324.6" cy="626.3" r="9.3" fill="#7d9092" stroke="#c8d4d4" stroke-width="1.4"/>
<circle cx="324.6" cy="626.3" r="5.4" fill="#b7c5c5" stroke="#8fa1a2" stroke-width="1"/>
</g>
</svg>
<div class="bx" style="left:70.8px;top:17.3px;width:323.7px;height:127.2px"></div>
<div class="bx" style="left:438.0px;top:17.3px;width:315.2px;height:127.0px"></div>
<div class="bx" style="left:798.6px;top:17.3px;width:336.4px;height:127.2px"></div>
<div class="bx" style="left:1180.7px;top:17.3px;width:335.9px;height:127.2px"></div>
<div class="bx" style="left:1047.0px;top:659.5px;width:375.5px;height:127.5px"></div>
<div class="bx" style="left:76.8px;top:653.2px;width:336.0px;height:127.5px"></div>
<div class="t ti" style="left:96.5px;top:27.34px;letter-spacing:0.36px;transform:scaleX(1.08)"><span class="bg">Sample collection</span></div>
<div class="t bo bold" style="left:96.5px;top:56.74px;letter-spacing:-0.13px;transform:scaleX(1.08)"><span class="bg"><span style="font-size:0.62em;position:relative;top:-0.22em;letter-spacing:0">•</span><span style="letter-spacing:0"> </span>Low yield with plasma</span></div>
<div class="t bo bold" style="left:96.5px;top:77.54px;letter-spacing:-0.18px;transform:scaleX(1.08)"><span class="bg"><span style="font-size:0.62em;position:relative;top:-0.22em;letter-spacing:0">•</span><span style="letter-spacing:0"> </span>Limitation in CSF volume</span></div>
<div class="t bo bold" style="left:96.5px;top:98.44px;letter-spacing:-0.10px;transform:scaleX(1.08)"><span class="bg"><span style="font-size:0.62em;position:relative;top:-0.22em;letter-spacing:0">•</span><span style="letter-spacing:0"> </span>Contamination by traumatic</span></div>
<div class="t bo bold" style="left:96.5px;top:118.54px;letter-spacing:-0.24px;transform:scaleX(1.08)"><span class="bg">lumbar puncture</span></div>
<div class="t ti" style="left:464.0px;top:33.74px;letter-spacing:-0.03px;transform:scaleX(1.08)"><span class="bg">Pre-processing</span></div>
<div class="t bo bold" style="left:464.0px;top:62.44px;letter-spacing:-0.15px;transform:scaleX(1.08)"><span class="bg"><span style="font-size:0.62em;position:relative;top:-0.22em;letter-spacing:0">•</span><span style="letter-spacing:0"> </span>Choice of storage tube</span></div>
<div class="t bo bold" style="left:464.0px;top:83.54px;letter-spacing:-0.03px;transform:scaleX(1.08)"><span class="bg"><span style="font-size:0.62em;position:relative;top:-0.22em;letter-spacing:0">•</span><span style="letter-spacing:0"> </span>Genomic DNA release from</span></div>
<div class="t bo bold" style="left:464.0px;top:103.64px;letter-spacing:-0.24px;transform:scaleX(1.08)"><span class="bg">cellular component</span></div>
<div class="t ti" style="left:812.6px;top:33.74px;letter-spacing:0.45px;transform:scaleX(1.08)"><span class="bg">cfDNA extraction</span></div>
<div class="t bo med" style="left:812.6px;top:63.24px;letter-spacing:0.56px;transform:scaleX(1.08)"><span class="bg"><span style="font-size:0.62em;position:relative;top:-0.22em;letter-spacing:0">•</span><span style="letter-spacing:0"> </span>Difference in yield and purity</span></div>
<div class="t bo med" style="left:812.6px;top:84.14px;letter-spacing:0.70px;transform:scaleX(1.08)"><span class="bg">among extraction methods and</span></div>
<div class="t bo med" style="left:812.6px;top:104.44px;letter-spacing:0.26px;transform:scaleX(1.08)"><span class="bg">kits</span></div>
<div class="t ti" style="left:1194.7px;top:33.74px;letter-spacing:0.19px;transform:scaleX(1.08)"><span class="bg">Quality control</span></div>
<div class="t bo med" style="left:1194.7px;top:63.24px;letter-spacing:0.66px;transform:scaleX(1.08)"><span class="bg"><span style="font-size:0.62em;position:relative;top:-0.22em;letter-spacing:0">•</span><span style="letter-spacing:0"> </span>Sensitivity of assays to detect</span></div>
<div class="t bo med" style="left:1194.7px;top:84.14px;letter-spacing:0.68px;transform:scaleX(1.08)"><span class="bg">low concentrations of cfDNA</span></div>
<div class="t ti" style="left:1074.3px;top:670.24px;letter-spacing:0.31px;transform:scaleX(1.08)"><span class="bg">Downstream assay</span></div>
<div class="t bo med" style="left:1074.3px;top:698.74px;letter-spacing:0.75px;transform:scaleX(1.08)"><span class="bg"><span style="font-size:0.62em;position:relative;top:-0.22em;letter-spacing:0">•</span><span style="letter-spacing:0"> </span>DNA input requirement</span></div>
<div class="t bo med" style="left:1074.3px;top:719.24px;letter-spacing:0.72px;transform:scaleX(1.08)"><span class="bg"><span style="font-size:0.62em;position:relative;top:-0.22em;letter-spacing:0">•</span><span style="letter-spacing:0"> </span>Spectrum of alterations captured</span></div>
<div class="t bo med" style="left:1074.3px;top:739.74px;letter-spacing:0.84px;transform:scaleX(1.08)"><span class="bg"><span style="font-size:0.62em;position:relative;top:-0.22em;letter-spacing:0">•</span><span style="letter-spacing:0"> </span>Throughput and cost</span></div>
<div class="t ti" style="left:103.3px;top:663.44px;letter-spacing:0.35px;transform:scaleX(1.08)"><span class="bg">Bioinformatics</span></div>
<div class="t bo med" style="left:103.3px;top:692.84px;letter-spacing:0.65px;transform:scaleX(1.08)"><span class="bg"><span style="font-size:0.62em;position:relative;top:-0.22em;letter-spacing:0">•</span><span style="letter-spacing:0"> </span>Detection of alterations at low</span></div>
<div class="t bo med" style="left:103.3px;top:713.44px;letter-spacing:0.16px;transform:scaleX(1.08)"><span class="bg">frequencies</span></div>
<div class="t bo med" style="left:103.3px;top:733.74px;letter-spacing:0.49px;transform:scaleX(1.08)"><span class="bg"><span style="font-size:0.62em;position:relative;top:-0.22em;letter-spacing:0">•</span><span style="letter-spacing:0"> </span>Delineation between genuine</span></div>
<div class="t bo med" style="left:103.3px;top:754.74px;letter-spacing:0.40px;transform:scaleX(1.08)"><span class="bg">events and assay artefacts</span></div>
<div class="gw">
<div class="g" style="left:46.4px;top:133.75px;font-size:18.5px;letter-spacing:0.07px;color:#444;transform:scale(1.120,1.593);-webkit-mask-image:linear-gradient(to bottom, transparent 1.79px, #000 1.79px, #000 6.12px, transparent 6.12px, transparent 10.45px, #000 10.45px, #000 19.73px, transparent 19.73px);mask-image:linear-gradient(to bottom, transparent 1.79px, #000 1.79px, #000 6.12px, transparent 6.12px, transparent 10.45px, #000 10.45px, #000 19.73px, transparent 19.73px)">• Difference in yield and purity</div>
<div class="g" style="left:45.0px;top:178.76px;font-size:18.5px;letter-spacing:0.28px;color:#444;transform:scale(1.120,1.548);-webkit-mask-image:linear-gradient(to bottom, transparent 1.77px, #000 1.77px, #000 7.52px, transparent 7.52px, transparent 11.20px, #000 11.20px, #000 19.73px, transparent 19.73px);mask-image:linear-gradient(to bottom, transparent 1.77px, #000 1.77px, #000 7.52px, transparent 7.52px, transparent 11.20px, #000 11.20px, #000 19.73px, transparent 19.73px)">among extraction methods and</div>
<div class="g" style="left:45.0px;top:215.26px;font-size:18.5px;letter-spacing:0.00px;color:#444;transform:scale(1.063,1.548);-webkit-mask-image:linear-gradient(to bottom, transparent 1.77px, #000 1.77px, #000 5.13px, transparent 5.13px, transparent 10.23px, #000 10.23px, #000 16.31px, transparent 16.31px);mask-image:linear-gradient(to bottom, transparent 1.77px, #000 1.77px, #000 5.13px, transparent 5.13px, transparent 10.23px, #000 10.23px, #000 16.31px, transparent 16.31px)">kits</div>
<div class="g" style="left:98.0px;top:110.96px;font-size:18.5px;letter-spacing:0.09px;color:#222;transform:scale(1.120,1.548);-webkit-mask-image:linear-gradient(to bottom, transparent 1.77px, #000 1.77px, #000 5.13px, transparent 5.13px, transparent 11.72px, #000 11.72px, #000 19.73px, transparent 19.73px);mask-image:linear-gradient(to bottom, transparent 1.77px, #000 1.77px, #000 5.13px, transparent 5.13px, transparent 11.72px, #000 11.72px, #000 19.73px, transparent 19.73px)">• Low yield with plasma</div>
<div class="g" style="left:98.0px;top:157.28px;font-size:18.5px;letter-spacing:0.01px;color:#444;transform:scale(1.120,1.540);-webkit-mask-image:linear-gradient(to bottom, transparent 1.76px, #000 1.76px, #000 6.89px, transparent 6.89px, transparent 10.73px, #000 10.73px, #000 16.31px, transparent 16.31px);mask-image:linear-gradient(to bottom, transparent 1.76px, #000 1.76px, #000 6.89px, transparent 6.89px, transparent 10.73px, #000 10.73px, #000 16.31px, transparent 16.31px)">• Limitation in CSF volume</div>
<div class="g" style="left:98.0px;top:203.00px;font-size:18.5px;letter-spacing:0.18px;color:#444;transform:scale(1.120,1.533);-webkit-mask-image:linear-gradient(to bottom, transparent 1.76px, #000 1.76px, #000 7.76px, transparent 7.76px, transparent 11.55px, #000 11.55px, #000 19.73px, transparent 19.73px);mask-image:linear-gradient(to bottom, transparent 1.76px, #000 1.76px, #000 7.76px, transparent 7.76px, transparent 11.55px, #000 11.55px, #000 19.73px, transparent 19.73px)">• Contamination by traumatic</div>
<div class="g" style="left:98.0px;top:237.85px;font-size:18.5px;letter-spacing:0.08px;color:#444;transform:scale(1.120,1.510);-webkit-mask-image:linear-gradient(to bottom, transparent 1.75px, #000 1.75px, #000 6.65px, transparent 6.65px, transparent 11.16px, #000 11.16px, #000 19.73px, transparent 19.73px);mask-image:linear-gradient(to bottom, transparent 1.75px, #000 1.75px, #000 6.65px, transparent 6.65px, transparent 11.16px, #000 11.16px, #000 19.73px, transparent 19.73px)">lumbar puncture</div>
<div class="g" style="left:427.7px;top:132.82px;font-size:18.5px;letter-spacing:0.17px;color:#444;transform:scale(1.120,1.608);-webkit-mask-image:linear-gradient(to bottom, transparent 1.79px, #000 1.79px, #000 6.15px, transparent 6.15px, transparent 11.18px, #000 11.18px, #000 19.73px, transparent 19.73px);mask-image:linear-gradient(to bottom, transparent 1.79px, #000 1.79px, #000 6.15px, transparent 6.15px, transparent 11.18px, #000 11.18px, #000 19.73px, transparent 19.73px)">• Sensitivity of assays to detect</div>
<div class="g" style="left:427.7px;top:179.76px;font-size:18.5px;letter-spacing:0.30px;color:#444;transform:scale(1.120,1.548);-webkit-mask-image:linear-gradient(to bottom, transparent 1.77px, #000 1.77px, #000 7.20px, transparent 7.20px, transparent 11.01px, #000 11.01px, #000 16.31px, transparent 16.31px);mask-image:linear-gradient(to bottom, transparent 1.77px, #000 1.77px, #000 7.20px, transparent 7.20px, transparent 11.01px, #000 11.01px, #000 16.31px, transparent 16.31px)">low concentrations of cfDNA</div>
<div class="g" style="left:464.3px;top:124.52px;font-size:18.5px;letter-spacing:0.05px;color:#444;transform:scale(1.120,1.608);-webkit-mask-image:linear-gradient(to bottom, transparent 1.79px, #000 1.79px, #000 6.89px, transparent 6.89px, transparent 11.18px, #000 11.18px, #000 19.73px, transparent 19.73px);mask-image:linear-gradient(to bottom, transparent 1.79px, #000 1.79px, #000 6.89px, transparent 6.89px, transparent 11.18px, #000 11.18px, #000 19.73px, transparent 19.73px)">• Choice of storage tube</div>
<div class="g" style="left:464.3px;top:160.03px;font-size:18.5px;letter-spacing:0.06px;color:#444;transform:scale(1.120,1.563);-webkit-mask-image:linear-gradient(to bottom, transparent 1.77px, #000 1.77px, #000 6.32px, transparent 6.32px, transparent 10.67px, #000 10.67px, #000 16.30px, transparent 16.30px);mask-image:linear-gradient(to bottom, transparent 1.77px, #000 1.77px, #000 6.32px, transparent 6.32px, transparent 10.67px, #000 10.67px, #000 16.30px, transparent 16.30px)">• Genomic DNA release from</div>
<div class="g" style="left:463.0px;top:206.76px;font-size:18.5px;letter-spacing:0.29px;color:#444;transform:scale(1.120,1.548);-webkit-mask-image:linear-gradient(to bottom, transparent 1.77px, #000 1.77px, #000 6.55px, transparent 6.55px, transparent 10.30px, #000 10.30px, #000 19.73px, transparent 19.73px);mask-image:linear-gradient(to bottom, transparent 1.77px, #000 1.77px, #000 6.55px, transparent 6.55px, transparent 10.30px, #000 10.30px, #000 19.73px, transparent 19.73px)">cellular component</div>
</div>
<div class="gw" style="filter:url(#thin3)">
<div class="g" style="left:45.6px;top:69.88px;font-size:27px;letter-spacing:-0.00px;color:#222;transform:scale(1.114,1.821);-webkit-mask-image:linear-gradient(to bottom, transparent 2.97px, #000 2.97px, #000 5.78px, transparent 5.78px, transparent 10.55px, #000 10.55px, #000 14.73px, transparent 14.73px, transparent 18.79px, #000 18.79px, #000 23.40px, transparent 23.40px);mask-image:linear-gradient(to bottom, transparent 2.97px, #000 2.97px, #000 5.78px, transparent 5.78px, transparent 10.55px, #000 10.55px, #000 14.73px, transparent 14.73px, transparent 18.79px, #000 18.79px, #000 23.40px, transparent 23.40px)">cfDNA extraction</div>
<div class="g" style="left:427.7px;top:70.03px;font-size:27px;letter-spacing:0.00px;color:#3a3a3a;transform:scale(1.084,1.836);-webkit-mask-image:linear-gradient(to bottom, transparent 2.98px, #000 2.98px, #000 6.79px, transparent 6.79px, transparent 10.55px, #000 10.55px, #000 14.52px, transparent 14.52px, transparent 17.63px, #000 17.63px, #000 28.80px, transparent 28.80px);mask-image:linear-gradient(to bottom, transparent 2.98px, #000 2.98px, #000 6.79px, transparent 6.79px, transparent 10.55px, #000 10.55px, #000 14.52px, transparent 14.52px, transparent 17.63px, #000 17.63px, #000 28.80px, transparent 28.80px)">Quality control</div>
<div class="g" style="left:464.3px;top:75.05px;font-size:27px;letter-spacing:0.00px;color:#3a3a3a;transform:scale(1.074,1.091);-webkit-mask-image:linear-gradient(to bottom, transparent 2.61px, #000 2.61px, #000 11.13px, transparent 11.13px, transparent 15.34px, #000 15.34px, #000 28.80px, transparent 28.80px);mask-image:linear-gradient(to bottom, transparent 2.61px, #000 2.61px, #000 11.13px, transparent 11.13px, transparent 15.34px, #000 15.34px, #000 28.80px, transparent 28.80px)">Pre-processing</div>
</div>
<div class="gw" style="filter:url(#thin2);opacity:1">
<div class="s" style="left:97.8px;top:66.3px;width:238px;height:4.5px"><span style="top:-9.66px;font-size:18.5px;letter-spacing:1.02px;color:#111">• Low yield with plasma ~</span></div>
<div class="s" style="left:98.5px;top:77.3px;width:238px;height:7.2px"><span style="top:-1.96px;font-size:18.5px;letter-spacing:0.59px;color:#111">• Limitation in CSF volume</span></div>
<div class="s" style="left:98.5px;top:85.5px;width:238px;height:3.7px"><span style="top:-4.66px;font-size:18.5px;letter-spacing:0.59px;color:#111">• Limitation in CSF volume</span></div>
<div class="s" style="left:93.0px;top:103.7px;width:183px;height:8.9px"><span style="top:-6.16px;font-size:18.5px;letter-spacing:1.26px;color:#111">• Contamination by</span></div>
<div class="s" style="left:98.0px;top:127.0px;width:156px;height:9.0px"><span style="top:-7.06px;font-size:18.5px;letter-spacing:1.55px;color:#111">• Low yield with</span></div>
<div class="s" style="left:98.0px;top:56.0px;width:241px;height:5.0px"><span style="top:-3.86px;font-size:27px;letter-spacing:1.46px;color:#333">Sample collection</span></div>
<div class="s" style="left:463.0px;top:70.5px;width:32px;height:6.5px"><span style="top:-7.66px;font-size:18.5px;letter-spacing:0.51px;color:#111">• C</span></div>
<div class="s" style="left:464.0px;top:88.3px;width:149px;height:7.3px"><span style="top:-2.46px;font-size:18.5px;letter-spacing:1.10px;color:#111">• Genomic DNA</span></div>
<div class="s" style="left:464.0px;top:113.0px;width:116px;height:4.6px"><span style="top:-10.16px;font-size:18.5px;letter-spacing:1.03px;color:#111">cellular com</span></div>
</div>
</div></body></html>
